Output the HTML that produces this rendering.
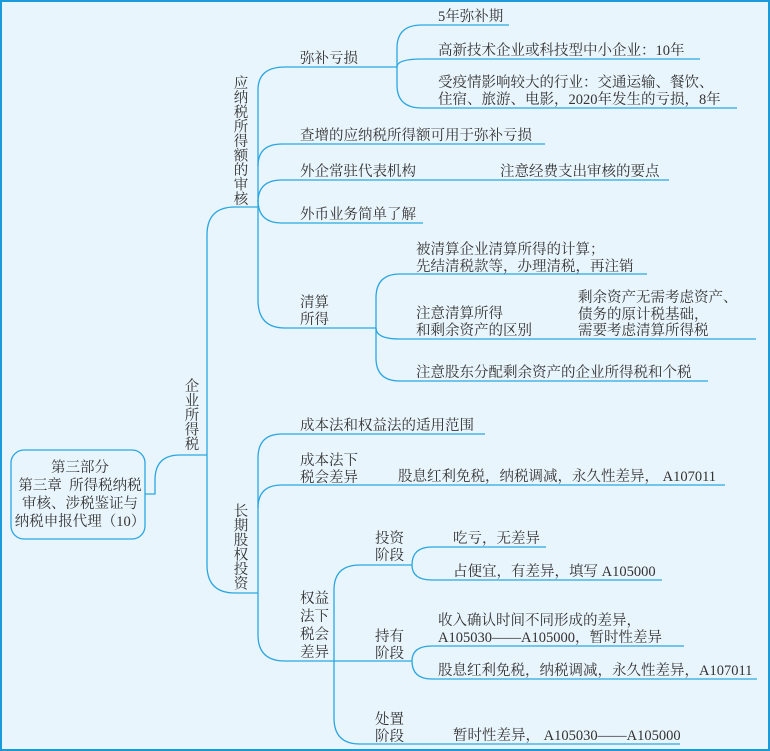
<!DOCTYPE html>
<html><head><meta charset="utf-8"><style>
html,body{margin:0;padding:0;background:#e9f5fc}
svg{display:block}
text{font-family:"Liberation Serif","Noto Serif CJK SC","Noto Sans CJK SC",serif;font-size:14.5px;fill:#333}
</style></head><body>
<svg width="770" height="751" viewBox="0 0 770 751" xmlns="http://www.w3.org/2000/svg">
<rect x="1" y="1" width="768" height="749" fill="#e9f5fc" stroke="#1a9ad8" stroke-width="2"/>
<g fill="none" stroke="#2aa6e0" stroke-width="1.3">
<rect x="11" y="450" width="134" height="89" rx="13"/>
<path d="M145 494 H155 V480 Q155 455 180 455 H207"/>
<path d="M258 207 H235 Q207 207 207 235 V565 Q207 593 235 593 H258"/>
<path d="M258 90 Q258 67 285 67 H397"/>
<path d="M258 90 V300 Q258 328 285 328 H376"/>
<path d="M258 166 Q258 144 282 144 H545"/>
<path d="M258 202 Q258 180 282 180 H669"/>
<path d="M258 200 Q258 223 282 223 H423"/>
<path d="M397 67 V48 Q397 25 422 25 H509"/>
<path d="M397 67 Q397 59 422 59 H700"/>
<path d="M397 67 V85 Q397 108 422 108 H737"/>
<path d="M376 328 V298 Q376 274 400 274 H647"/>
<path d="M376 328 Q376 339 400 339 H756"/>
<path d="M376 328 V358 Q376 381 400 381 H708"/>
<path d="M258 593 V458 Q258 434 282 434 H485"/>
<path d="M258 508 Q258 485 282 485 H725"/>
<path d="M258 593 V635 Q258 661 285 661 H334"/>
<path d="M334 661 V590 Q334 565 360 565 H412"/>
<path d="M334 661 H412"/>
<path d="M334 661 V718 Q334 744 360 744 H680"/>
<path d="M412 565 Q412 547 432 547 H546"/>
<path d="M412 565 Q412 580 432 580 H662"/>
<path d="M412 661 Q412 646 432 646 H684"/>
<path d="M412 661 Q412 679 432 679 H757"/>
</g>
<g text-anchor="middle">
<text x="80" y="472">第三部分</text>
<text x="80" y="490" xml:space="preserve">第三章  所得税纳税</text>
<text x="80" y="508">审核、涉税鉴证与</text>
<text x="80" y="526">纳税申报代理（10）</text>
</g>
<g text-anchor="middle">
<text x="192" y="391">企</text><text x="192" y="405.5">业</text><text x="192" y="420">所</text><text x="192" y="434.5">得</text><text x="192" y="449">税</text>
<text x="241" y="88">应</text><text x="241" y="102.5">纳</text><text x="241" y="117">税</text><text x="241" y="131.5">所</text><text x="241" y="146">得</text><text x="241" y="160.5">额</text><text x="241" y="175">的</text><text x="241" y="189.5">审</text><text x="241" y="204">核</text>
<text x="241" y="516">长</text><text x="241" y="530.5">期</text><text x="241" y="545">股</text><text x="241" y="559.5">权</text><text x="241" y="574">投</text><text x="241" y="588.5">资</text>
</g>
<text x="300" y="63">弥补亏损</text>
<text x="300" y="140">查增的应纳税所得额可用于弥补亏损</text>
<text x="300" y="176">外企常驻代表机构</text>
<text x="500" y="176">注意经费支出审核的要点</text>
<text x="300" y="219">外币业务简单了解</text>
<text x="300" y="307">清算</text><text x="300" y="324">所得</text>
<text x="438" y="21">5年弥补期</text>
<text x="438" y="55">高新技术企业或科技型中小企业：10年</text>
<text x="438" y="87">受疫情影响较大的行业：交通运输、餐饮、</text>
<text x="438" y="104">住宿、旅游、电影，2020年发生的亏损，8年</text>
<text x="416" y="254">被清算企业清算所得的计算；</text>
<text x="416" y="271">先结清税款等，办理清税，再注销</text>
<text x="416" y="318">注意清算所得</text>
<text x="416" y="335">和剩余资产的区别</text>
<text x="578" y="302">剩余资产无需考虑资产、</text>
<text x="578" y="319">债务的原计税基础，</text>
<text x="578" y="335">需要考虑清算所得税</text>
<text x="416" y="377">注意股东分配剩余资产的企业所得税和个税</text>
<text x="300" y="430">成本法和权益法的适用范围</text>
<text x="300" y="465">成本法下</text><text x="300" y="482">税会差异</text>
<text x="398" y="481">股息红利免税，纳税调减，永久性差异， A107011</text>
<text x="300" y="603">权益</text><text x="300" y="621">法下</text><text x="300" y="639">税会</text><text x="300" y="657">差异</text>
<text x="375" y="543">投资</text><text x="375" y="560">阶段</text>
<text x="453" y="543">吃亏，无差异</text>
<text x="453" y="576">占便宜，有差异，填写 A105000</text>
<text x="375" y="641">持有</text><text x="375" y="658">阶段</text>
<text x="438" y="625">收入确认时间不同形成的差异，</text>
<text x="438" y="642">A105030——A105000，暂时性差异</text>
<text x="438" y="675">股息红利免税，纳税调减，永久性差异，A107011</text>
<text x="375" y="724">处置</text><text x="375" y="741">阶段</text>
<text x="453" y="740">暂时性差异， A105030——A105000</text>
</svg>
</body></html>
